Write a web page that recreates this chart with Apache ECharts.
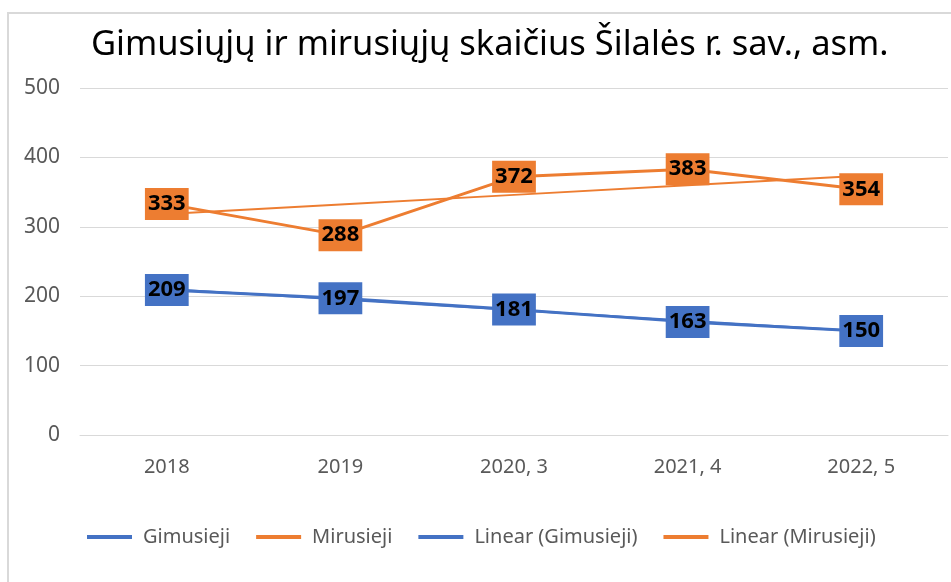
<!DOCTYPE html>
<html>
<head>
<meta charset="utf-8">
<script src="https://cdn.jsdelivr.net/npm/echarts@6/dist/echarts.min.js"></script>
<style>
html,body{margin:0;padding:0;background:#fff;}
#chart{width:951px;height:582px;}
</style>
</head>
<body>
<div id="chart"></div>
<script>
const title = 'Gimusiųjų ir mirusiųjų skaičius Šilalės r. sav., asm.';
const categories = ['2018', '2019', '2020, 3', '2021, 4', '2022, 5'];
const gimusieji = [209, 197, 181, 163, 150];
const mirusieji = [333, 288, 372, 383, 354];
const yTicks = [0, 100, 200, 300, 400, 500];

function linearTrend(values) {
  const n = values.length;
  let sx = 0, sy = 0, sxy = 0, sxx = 0;
  values.forEach((v, i) => { const x = i + 1; sx += x; sy += v; sxy += x * v; sxx += x * x; });
  const b = (n * sxy - sx * sy) / (n * sxx - sx * sx);
  const a = (sy - b * sx) / n;
  return values.map((v, i) => +(a + b * (i + 1)).toFixed(2));
}

const BLUE = '#4472C4';
const ORANGE = '#ED7D31';
const FONT = 'Noto Sans';

const chart = echarts.init(document.getElementById('chart'));

function labelCfg(color) {
  return {
    show: true,
    position: 'inside',
    color: '#000',
    fontFamily: FONT,
    fontWeight: 'bold',
    fontSize: 22,
    lineHeight: 24,
    backgroundColor: color,
    padding: [4, 3, 4, 3]
  };
}

chart.setOption({
  animation: false,
  backgroundColor: '#fff',
  graphic: [{
    type: 'rect',
    shape: { x: 8, y: 13, width: 960, height: 600 },
    style: { fill: 'none', stroke: '#d9d9d9', lineWidth: 2 },
    silent: true
  }],
  title: {
    text: title,
    left: 86,
    top: 23,
    textStyle: { fontFamily: FONT, fontWeight: 'normal', fontSize: 34.5, color: '#000' }
  },
  grid: { left: 80, right: 3, top: 88, bottom: 147 },
  legend: {
    top: 522,
    left: 82,
    itemWidth: 45,
    itemHeight: 4,
    itemGap: 26,
    icon: 'rect',
    textStyle: { fontFamily: FONT, fontSize: 20, color: '#595959', padding: [0, 0, 0, 6] },
    data: ['Gimusieji', 'Mirusieji', 'Linear (Gimusieji)', 'Linear (Mirusieji)']
  },
  xAxis: {
    type: 'category',
    data: categories,
    boundaryGap: true,
    axisLine: { show: true, lineStyle: { color: '#d9d9d9' } },
    axisTick: { show: false },
    axisLabel: { fontFamily: FONT, fontSize: 20, color: '#595959', margin: 22 }
  },
  yAxis: {
    type: 'value',
    min: yTicks[0],
    max: yTicks[yTicks.length - 1],
    interval: yTicks[1] - yTicks[0],
    axisLine: { show: false },
    axisTick: { show: false },
    splitLine: { lineStyle: { color: '#d9d9d9', width: 1 } },
    axisLabel: { fontFamily: FONT, fontSize: 21, color: '#595959', margin: 20 }
  },
  series: [
    {
      name: 'Linear (Gimusieji)',
      type: 'line',
      data: linearTrend(gimusieji),
      symbol: 'none',
      lineStyle: { color: BLUE, width: 2 },
      itemStyle: { color: BLUE },
      z: 1
    },
    {
      name: 'Linear (Mirusieji)',
      type: 'line',
      data: linearTrend(mirusieji),
      symbol: 'none',
      lineStyle: { color: ORANGE, width: 2 },
      itemStyle: { color: ORANGE },
      z: 1
    },
    {
      name: 'Gimusieji',
      type: 'line',
      data: gimusieji,
      symbol: 'circle',
      symbolSize: 1,
      lineStyle: { color: BLUE, width: 3 },
      itemStyle: { color: BLUE },
      label: labelCfg(BLUE),
      z: 2
    },
    {
      name: 'Mirusieji',
      type: 'line',
      data: mirusieji,
      symbol: 'circle',
      symbolSize: 1,
      lineStyle: { color: ORANGE, width: 3 },
      itemStyle: { color: ORANGE },
      label: labelCfg(ORANGE),
      z: 2
    }
  ]
});
</script>
</body>
</html>
